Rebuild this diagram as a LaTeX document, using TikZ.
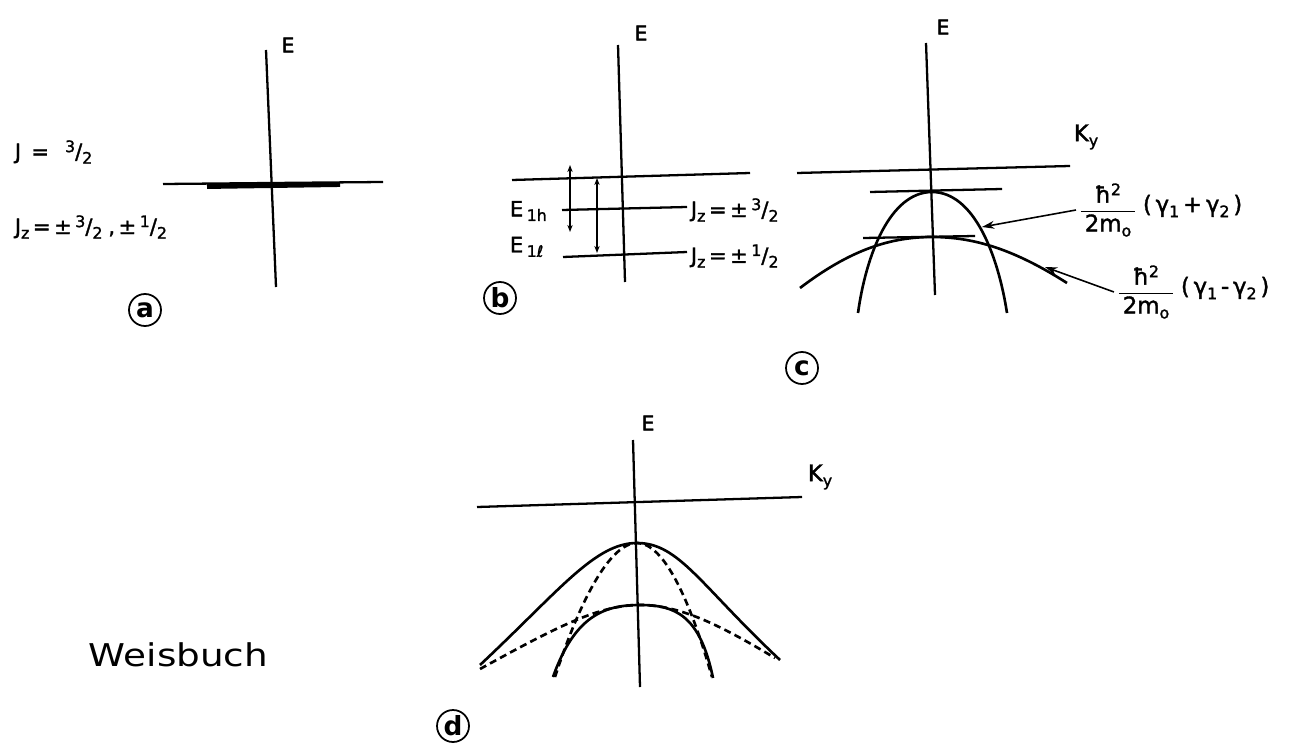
\documentclass[tikz,border=0pt]{standalone}
\usepackage{fontspec}
\setmainfont{DejaVu Sans}
\newfontfamily\labfont{DejaVu Sans}[FakeBold=1.5]
\usetikzlibrary{arrows.meta}
\newcommand\mysup[1]{\raisebox{0.6ex}{\fontsize{9}{9}\selectfont #1}}
\newcommand\mysub[1]{\raisebox{-0.4ex}{\fontsize{9}{9}\selectfont #1}}
\newcommand\hfr[2]{$\displaystyle\frac{\hbox{#1}}{\hbox{#2}}$}
\begin{document}
\begin{tikzpicture}[x=0.02cm,y=-0.02cm,line width=1.3pt,
  every node/.style={inner sep=1pt},
  axisline/.style={line width=1.3pt},
  curve/.style={line width=1.5pt},
  dcurve/.style={line width=1.5pt,dash pattern=on 4pt off 2.5pt},
  elab/.style={font=\labfont\fontsize{11.5}{13}\selectfont},
  tlab/.style={font=\labfont\fontsize{12}{14}\selectfont,anchor=west},
  flab/.style={font=\labfont\fontsize{13}{15}\selectfont},
  circlab/.style={circle,draw,line width=1pt,minimum size=0.64cm,inner sep=0pt,font=\fontsize{15}{15}\selectfont\bfseries},
  ptr/.style={-{Stealth[length=7pt,width=4.5pt]},line width=0.9pt},
  dim/.style={{Stealth[length=4pt,width=3pt]}-{Stealth[length=4pt,width=3pt]},line width=0.8pt}]
\useasboundingbox (0,0) rectangle (1293,746);

% ---------------- (a)
\coordinate (aT) at (266,50);
\coordinate (aB) at (276,287);
\draw[axisline] (aT) -- (aB);
\node[elab] (aE) at (288,45) {E};
\coordinate (aL) at (163,184);
\coordinate (aR) at (383,182);
\draw[axisline] (aL) -- (aR);
\coordinate (aBL) at (207,186.5);
\coordinate (aBR) at (340,184.5);
\draw[line width=2.8pt] (aBL) -- (aBR);
\node[tlab] (aJ) at (12,152) {J\, =\;\, \mysup{3}/\mysub{2}};
\node[tlab] (aJz) at (12,227) {J\mysub{z}\,=\,±\,\mysup{3}/\mysub{2}\;,\,±\,\mysup{1}/\mysub{2}};
\node[circlab] (la) at (145,310) {a};

% ---------------- (b)
\coordinate (bT) at (618,45);
\coordinate (bB) at (625,282);
\draw[axisline] (bT) -- (bB);
\node[elab] (bE) at (641,33) {E};
\coordinate (b0L) at (512,180);
\coordinate (b0R) at (750,173);
\draw[axisline] (b0L) -- (b0R);
\coordinate (b1L) at (562,210);
\coordinate (b1R) at (687,207);
\draw[axisline] (b1L) -- (b1R);
\coordinate (b2L) at (563,257);
\coordinate (b2R) at (687,252);
\draw[axisline] (b2L) -- (b2R);
\node[tlab] (bJ1) at (688,210) {J\mysub{z}\,=\,±\,\mysup{3}/\mysub{2}};
\node[tlab] (bJ2) at (688,256) {J\mysub{z}\,=\,±\,\mysup{1}/\mysub{2}};
\node[tlab] (bE1h) at (507,211) {E\,\mysub{1h}};
\node[tlab] (bE1l) at (507,247) {E\,\mysub{1ℓ}};
\coordinate (dA1) at (570,165);
\coordinate (dA2) at (570,232);
\draw[dim] (dA1) -- (dA2);
\coordinate (dB1) at (597,178);
\coordinate (dB2) at (597,253);
\draw[dim] (dB1) -- (dB2);
\node[circlab] (lb) at (500,298) {b};

% ---------------- (c)
\coordinate (cT) at (926,43);
\coordinate (cB) at (935,295);
\draw[axisline] (cT) -- (cB);
\node[elab] (cE) at (943,27) {E};
\coordinate (cKL) at (797,173);
\coordinate (cKR) at (1070,166);
\draw[axisline] (cKL) -- (cKR);
\node[flab] (cK) at (1086,137) {K\mysub{y}};
\coordinate (c1L) at (870,192);
\coordinate (c1R) at (1002,189);
\draw[axisline] (c1L) -- (c1R);
\coordinate (c2L) at (863,238);
\coordinate (c2R) at (975,236);
\draw[axisline] (c2L) -- (c2R);
\draw[curve] (858,313) .. controls (866,255) and (890,192) .. (932,192)
                       .. controls (974,192) and (998,255) .. (1007,313);
\draw[curve] (800,288) .. controls (850,250) and (890,237) .. (932,237)
                       .. controls (975,237) and (1015,250) .. (1067,283);
\coordinate (ctip1) at (982,227);
\coordinate (ctip2) at (1045,267);
\node[flab] (cf1) at (1108,210) {\hfr{ħ\mysup{2}}{\,2m\mysub{o}\,}};
\node[flab,anchor=west] (cg1) at (1140,206) {(\,γ\mysub{1}\,+\,γ\mysub{2}\,)};
\node[flab] (cf2) at (1146,292) {\hfr{ħ\mysup{2}}{\,2m\mysub{o}\,}};
\node[flab,anchor=west] (cg2) at (1178,288) {(\,γ\mysub{1}\,-\,γ\mysub{2}\,)};
\draw[ptr] (cf1.west) -- (ctip1);
\draw[ptr] (cf2.west) -- (ctip2);
\node[circlab] (lc) at (802,368) {c};

% ---------------- (d)
\coordinate (dT) at (633,440);
\coordinate (dB) at (640,687);
\draw[axisline] (dT) -- (dB);
\node[elab] (dE) at (648,423) {E};
\coordinate (dKL) at (477,507);
\coordinate (dKR) at (802,497);
\draw[axisline] (dKL) -- (dKR);
\node[flab] (dK) at (820,477) {K\mysub{y}};
% outer solid bell
\draw[curve] (480,665) .. controls (560,590) and (595,543) .. (637,543)
                       .. controls (679,543) and (700,585) .. (780,660);
% inner solid arc
\draw[curve] (553,677) .. controls (575,615) and (605,605) .. (640,605)
                       .. controls (675,605) and (700,615) .. (713,678);
% dashed wide
\draw[dcurve] (480,669) .. controls (560,625) and (600,605) .. (640,605)
                        .. controls (680,605) and (720,625) .. (775,658);
% dashed narrow
\draw[dcurve] (555,677) .. controls (580,600) and (610,543) .. (637,543)
                        .. controls (664,543) and (690,600) .. (712,677);
\node[circlab] (ld) at (453,726) {d};

% ---------------- signature
\node[font=\fontsize{17}{20}\selectfont,anchor=west] (sig) at (86,655) {\scalebox{1.25}[1.05]{Weisbuch}};
\end{tikzpicture}
\end{document}
